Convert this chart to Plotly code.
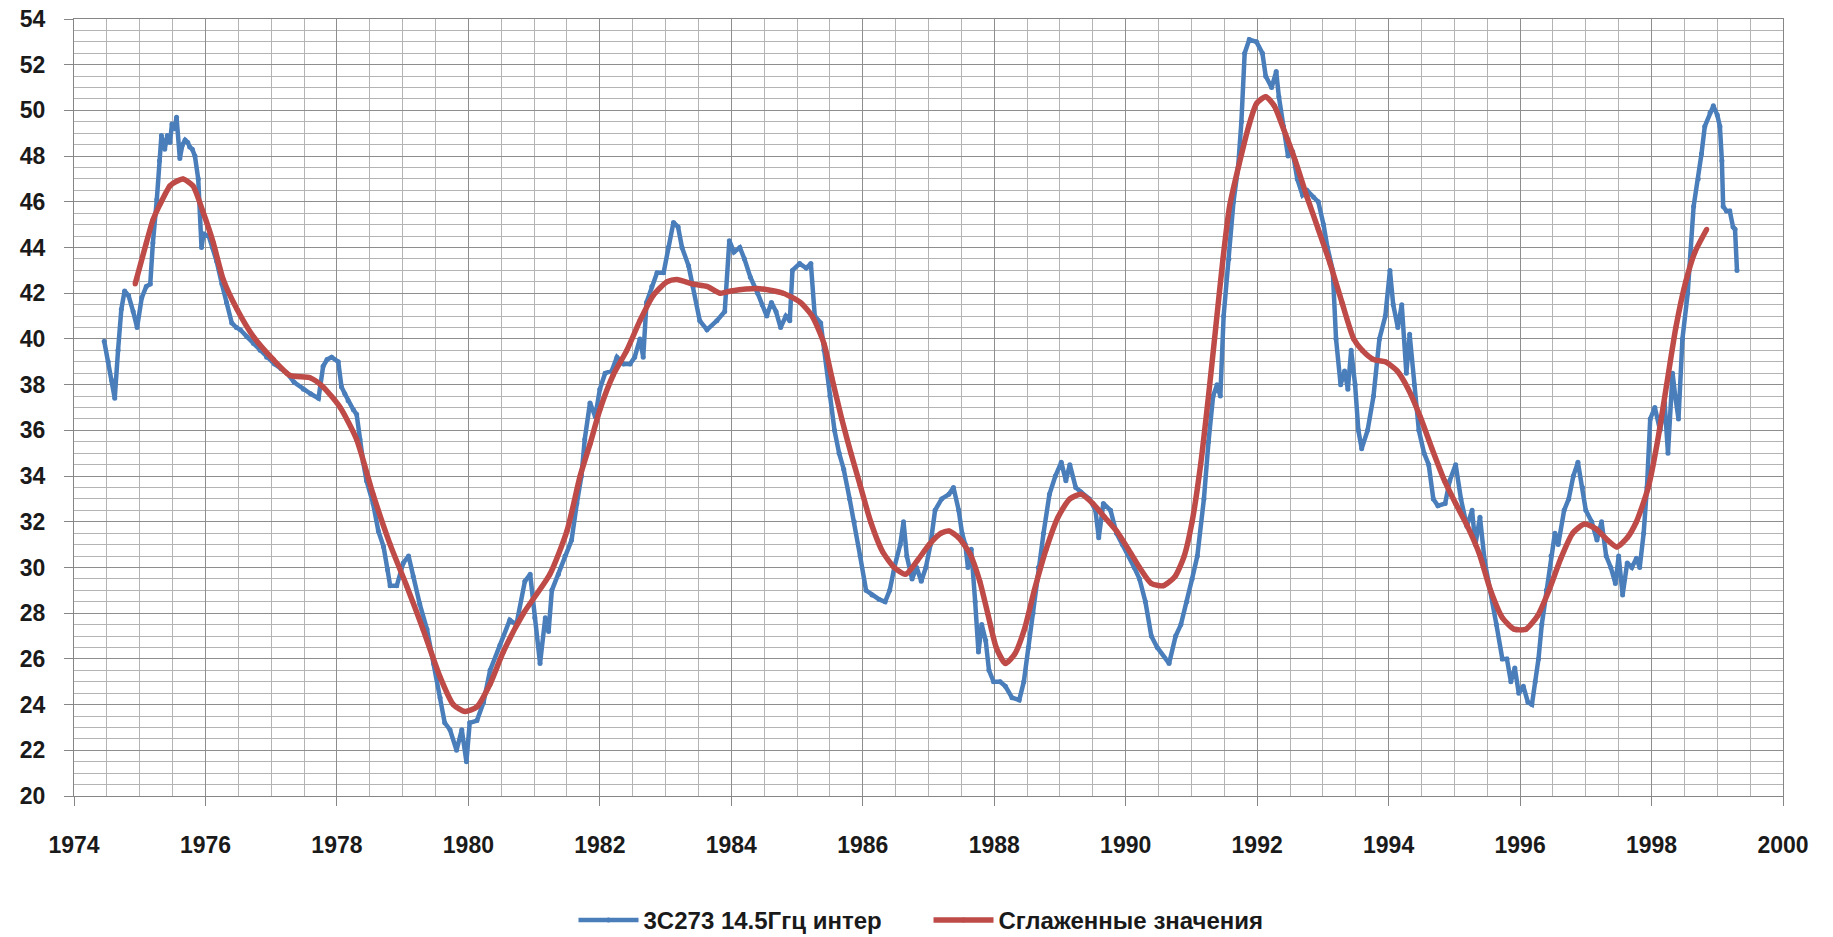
import plotly.graph_objects as go

# 3C273 flux density at 14.5 GHz (interferometer) and its smoothed curve
years_obs = [
    1974.46, 1974.52, 1974.57, 1974.62, 1974.67, 1974.72, 1974.77, 1974.83, 1974.90, 1974.96,
    1975.03, 1975.10, 1975.16, 1975.20, 1975.26, 1975.30, 1975.33, 1975.38, 1975.42, 1975.46,
    1975.49, 1975.53, 1975.56, 1975.61, 1975.65, 1975.69, 1975.73, 1975.76, 1975.80, 1975.84,
    1975.89, 1975.94, 1975.97, 1976.05, 1976.11, 1976.17, 1976.25, 1976.32, 1976.40, 1976.47,
    1976.53, 1976.63, 1976.73, 1976.83, 1976.93, 1977.05, 1977.15, 1977.24, 1977.35, 1977.49,
    1977.60, 1977.72, 1977.79, 1977.85, 1977.92, 1978.02, 1978.07, 1978.12, 1978.17, 1978.25,
    1978.30, 1978.35, 1978.40, 1978.45, 1978.55, 1978.63, 1978.71, 1978.77, 1978.81, 1978.91,
    1979.01, 1979.09, 1979.16, 1979.26, 1979.37, 1979.47, 1979.57, 1979.64, 1979.72, 1979.82,
    1979.90, 1979.97, 1980.02, 1980.13, 1980.23, 1980.33, 1980.48, 1980.63, 1980.73, 1980.86,
    1980.94, 1981.01, 1981.09, 1981.17, 1981.22, 1981.27, 1981.37, 1981.47, 1981.57, 1981.65,
    1981.72, 1981.77, 1981.85, 1981.93, 1982.00, 1982.08, 1982.18, 1982.26, 1982.36, 1982.46,
    1982.53, 1982.61, 1982.66, 1982.71, 1982.79, 1982.87, 1982.97, 1983.04, 1983.12, 1983.19,
    1983.25, 1983.35, 1983.42, 1983.52, 1983.63, 1983.78, 1983.90, 1983.97, 1984.04, 1984.13,
    1984.20, 1984.29, 1984.40, 1984.47, 1984.54, 1984.61, 1984.68, 1984.75, 1984.83, 1984.89,
    1984.93, 1985.04, 1985.14, 1985.21, 1985.27, 1985.36, 1985.41, 1985.50, 1985.57, 1985.64,
    1985.71, 1985.80, 1985.87, 1985.96, 1986.05, 1986.14, 1986.25, 1986.34, 1986.41, 1986.48,
    1986.57, 1986.62, 1986.67, 1986.75, 1986.82, 1986.89, 1986.96, 1987.03, 1987.10, 1987.20,
    1987.31, 1987.38, 1987.46, 1987.51, 1987.56, 1987.60, 1987.65, 1987.71, 1987.76, 1987.81,
    1987.87, 1987.92, 1987.99, 1988.09, 1988.17, 1988.27, 1988.38, 1988.45, 1988.52, 1988.59,
    1988.67, 1988.75, 1988.84, 1988.93, 1989.02, 1989.09, 1989.15, 1989.24, 1989.32, 1989.45,
    1989.54, 1989.59, 1989.66, 1989.77, 1989.86, 1989.95, 1990.05, 1990.13, 1990.21, 1990.30,
    1990.39, 1990.48, 1990.66, 1990.76, 1990.84, 1990.93, 1991.01, 1991.09, 1991.19, 1991.26,
    1991.33, 1991.39, 1991.44, 1991.49, 1991.57, 1991.64, 1991.71, 1991.76, 1991.81, 1991.88,
    1991.99, 1992.08, 1992.13, 1992.22, 1992.29, 1992.33, 1992.40, 1992.47, 1992.54, 1992.61,
    1992.69, 1992.76, 1992.86, 1992.93, 1993.01, 1993.07, 1993.15, 1993.20, 1993.27, 1993.33,
    1993.38, 1993.43, 1993.49, 1993.54, 1993.59, 1993.68, 1993.77, 1993.86, 1993.95, 1994.02,
    1994.07, 1994.14, 1994.20, 1994.27, 1994.32, 1994.39, 1994.46, 1994.54, 1994.61, 1994.68,
    1994.75, 1994.86, 1994.93, 1995.02, 1995.10, 1995.19, 1995.27, 1995.32, 1995.39, 1995.46,
    1995.55, 1995.64, 1995.73, 1995.80, 1995.86, 1995.92, 1995.98, 1996.05, 1996.12, 1996.18,
    1996.23, 1996.28, 1996.33, 1996.40, 1996.47, 1996.53, 1996.58, 1996.67, 1996.74, 1996.81,
    1996.88, 1996.95, 1997.00, 1997.09, 1997.17, 1997.24, 1997.31, 1997.38, 1997.45, 1997.50,
    1997.56, 1997.63, 1997.70, 1997.77, 1997.82, 1997.88, 1997.93, 1997.98, 1998.05, 1998.13,
    1998.20, 1998.25, 1998.32, 1998.36, 1998.41, 1998.47, 1998.55, 1998.64, 1998.71, 1998.76,
    1998.81, 1998.89, 1998.94, 1999.00, 1999.04, 1999.07, 1999.09, 1999.14, 1999.19, 1999.24,
    1999.27, 1999.30,
]
flux_obs = [
    39.9, 39.0, 38.2, 37.4, 39.5, 41.3, 42.1, 41.9, 41.2, 40.5,
    41.8, 42.3, 42.4, 44.2, 46.1, 47.8, 48.9, 48.3, 48.9, 48.6,
    49.4, 49.2, 49.7, 47.9, 48.5, 48.7, 48.6, 48.4, 48.3, 48.0,
    47.0, 44.0, 44.6, 44.5, 44.0, 43.4, 42.4, 41.6, 40.7, 40.5,
    40.4, 40.1, 39.8, 39.5, 39.2, 38.9, 38.7, 38.5, 38.1, 37.8,
    37.6, 37.4, 38.8, 39.1, 39.2, 39.0, 37.9, 37.6, 37.3, 36.9,
    36.7, 35.6, 34.6, 33.8, 32.8, 31.6, 30.9, 29.9, 29.2, 29.2,
    30.2, 30.5, 29.6, 28.4, 27.3, 25.8, 24.3, 23.2, 22.9, 22.0,
    22.9, 21.5, 23.2, 23.3, 24.1, 25.5, 26.6, 27.7, 27.5, 29.4,
    29.7, 27.8, 25.8, 27.8, 27.2, 29.0, 29.7, 30.5, 31.2, 32.8,
    34.0, 35.6, 37.2, 36.6, 37.8, 38.5, 38.6, 39.2, 38.9, 38.9,
    39.2, 40.0, 39.2, 41.6, 42.3, 42.9, 42.9, 44.0, 45.1, 44.9,
    44.0, 43.2, 42.3, 40.8, 40.4, 40.8, 41.2, 44.3, 43.8, 44.0,
    43.5, 42.7, 42.0, 41.5, 41.0, 41.6, 41.2, 40.5, 41.0, 40.8,
    43.0, 43.3, 43.1, 43.3, 41.0, 40.7, 39.5, 37.5, 36.0, 35.0,
    34.3, 33.0, 32.0, 30.5, 29.0, 28.8, 28.6, 28.5, 29.0, 30.0,
    31.0, 32.0, 30.5, 29.5, 30.0, 29.4, 30.0, 31.0, 32.5, 33.0,
    33.2, 33.5, 32.5, 31.5, 31.0, 30.0, 30.8, 28.5, 26.3, 27.5,
    26.8, 25.5, 25.0, 25.0, 24.8, 24.3, 24.2, 25.0, 26.5, 28.0,
    30.0, 31.5, 33.2, 34.0, 34.6, 33.8, 34.5, 33.5, 33.3, 33.0,
    32.5, 31.3, 32.8, 32.5, 31.5, 31.0, 30.5, 30.0, 29.5, 28.5,
    27.0, 26.5, 25.8, 27.0, 27.5, 28.5, 29.5, 30.5, 33.0, 35.5,
    37.5, 38.0, 37.5, 41.0, 43.5, 46.0, 47.5, 49.5, 52.5, 53.1,
    53.0, 52.5, 51.5, 51.0, 51.7, 50.6, 49.3, 48.0, 48.2, 47.0,
    46.3, 46.5, 46.2, 46.0, 45.0, 44.0, 43.0, 40.0, 38.0, 38.6,
    37.8, 39.5, 38.0, 36.0, 35.2, 36.0, 37.5, 40.0, 41.0, 43.0,
    41.5, 40.5, 41.5, 38.5, 40.2, 38.0, 36.0, 35.0, 34.5, 33.0,
    32.7, 32.8, 33.8, 34.5, 33.0, 31.8, 32.5, 31.0, 32.2, 30.3,
    29.0, 27.5, 26.0, 26.0, 25.0, 25.6, 24.5, 24.8, 24.1, 24.0,
    25.0, 26.0, 27.5, 29.0, 30.5, 31.5, 31.0, 32.5, 33.0, 34.0,
    34.6, 33.5, 32.5, 32.0, 31.2, 32.0, 30.5, 30.0, 29.3, 30.5,
    28.8, 30.2, 30.0, 30.4, 30.0, 31.5, 33.5, 36.5, 37.0, 36.0,
    37.2, 35.0, 38.5, 37.5, 36.5, 40.0, 42.0, 45.8, 47.0, 48.1,
    49.3, 49.9, 50.2, 49.8, 49.3, 47.8, 45.8, 45.6, 45.6, 44.9,
    44.8, 43.0,
]

years_smooth = [
    1974.93, 1975.10, 1975.20, 1975.31, 1975.46, 1975.56, 1975.66, 1975.81, 1975.97, 1976.12,
    1976.27, 1976.48, 1976.73, 1977.03, 1977.29, 1977.59, 1977.79, 1978.05, 1978.30, 1978.55,
    1978.81, 1979.06, 1979.31, 1979.57, 1979.77, 1979.95, 1980.13, 1980.33, 1980.53, 1980.84,
    1981.24, 1981.50, 1981.70, 1981.85, 1982.00, 1982.20, 1982.41, 1982.61, 1982.81, 1983.02,
    1983.17, 1983.42, 1983.63, 1983.83, 1984.00, 1984.43, 1984.79, 1985.05, 1985.23, 1985.41,
    1985.53, 1985.68, 1985.82, 1985.96, 1986.12, 1986.30, 1986.48, 1986.65, 1986.83, 1987.01,
    1987.19, 1987.31, 1987.46, 1987.63, 1987.78, 1987.90, 1988.03, 1988.17, 1988.31, 1988.46,
    1988.61, 1988.79, 1988.97, 1989.15, 1989.32, 1989.50, 1989.68, 1989.86, 1990.04, 1990.21,
    1990.39, 1990.57, 1990.75, 1990.89, 1991.01, 1991.14, 1991.26, 1991.37, 1991.48, 1991.58,
    1991.73, 1991.87, 1991.99, 1992.13, 1992.26, 1992.40, 1992.58, 1992.76, 1992.93, 1993.11,
    1993.29, 1993.47, 1993.60, 1993.77, 1993.95, 1994.13, 1994.30, 1994.48, 1994.66, 1994.85,
    1995.02, 1995.20, 1995.38, 1995.55, 1995.73, 1995.91, 1996.09, 1996.27, 1996.44, 1996.62,
    1996.80, 1996.98, 1997.15, 1997.33, 1997.47, 1997.63, 1997.77, 1997.95, 1998.09, 1998.23,
    1998.37, 1998.52, 1998.66, 1998.84,
]
flux_smooth = [
    42.4, 44.2, 45.2, 45.9, 46.7, 46.9, 47.0, 46.7, 45.5, 44.2,
    42.6, 41.3, 40.1, 39.1, 38.4, 38.3, 37.9, 37.0, 35.6, 33.2,
    31.0, 29.2, 27.3, 25.2, 24.0, 23.7, 23.9, 24.9, 26.3, 28.0,
    29.7, 31.6, 34.0, 35.4, 36.9, 38.4, 39.5, 40.8, 41.9, 42.5,
    42.6, 42.4, 42.3, 42.0, 42.1, 42.2, 42.0, 41.6, 41.0, 39.8,
    38.3, 36.5, 35.0, 33.6, 32.0, 30.7, 30.0, 29.7, 30.3, 31.0,
    31.5, 31.6, 31.3, 30.6, 29.4, 28.0, 26.5, 25.8, 26.2, 27.3,
    29.0, 30.8, 32.2, 33.0, 33.2, 32.8, 32.2, 31.6, 30.8, 30.0,
    29.3, 29.2, 29.6, 30.5, 32.0, 34.5, 37.5, 40.5, 43.5, 45.8,
    47.7, 49.3, 50.3, 50.6, 50.2, 49.2, 47.8, 46.2, 44.8, 43.3,
    41.6, 40.0, 39.5, 39.1, 39.0, 38.6, 37.8, 36.6, 35.2, 33.8,
    32.8, 31.8, 30.6, 29.0, 27.8, 27.3, 27.3, 27.9, 29.0, 30.4,
    31.5, 31.9, 31.7, 31.2, 30.9, 31.3, 32.0, 33.5, 35.5, 38.0,
    40.5, 42.5, 43.8, 44.8,
]

x_ticks = [1974, 1976, 1978, 1980, 1982, 1984, 1986, 1988, 1990, 1992, 1994, 1996, 1998, 2000]
y_ticks = list(range(20, 56, 2))

BLUE = "#4a7ebb"
RED = "#be4b48"
GRID_MAJOR = "#8e8e8e"
GRID_MINOR = "#b4b4b4"
FONT = "Liberation Sans Narrow, Liberation Sans, Arial, sans-serif"

fig = go.Figure()
fig.add_trace(go.Scatter(
    x=years_obs, y=flux_obs, name="3C273 14.5Ггц интер",
    mode="lines+markers",
    line=dict(color=BLUE, width=4.5),
    marker=dict(color=BLUE, size=5),
))
fig.add_trace(go.Scatter(
    x=years_smooth, y=flux_smooth, name="Сглаженные значения",
    mode="lines+markers",
    line=dict(color=RED, width=5.5, shape="spline", smoothing=0.6),
    marker=dict(color=RED, size=5),
))

axis_common = dict(
    showgrid=True, gridcolor=GRID_MAJOR, gridwidth=1,
    zeroline=False, automargin=False,
    showline=True, linecolor="#868686", linewidth=1, mirror=True,
    ticks="outside", ticklen=9, tickcolor="#868686", tickwidth=1,
    tickfont=dict(family=FONT, size=23, color="#1a1a1a", weight="bold"),
)

fig.update_xaxes(
    range=[1974, 2000], tickmode="array", tickvals=x_ticks,
    ticktext=[str(v) for v in x_ticks], ticklabelstandoff=19,
    minor=dict(dtick=0.5, tick0=1974, showgrid=True, gridcolor=GRID_MINOR, gridwidth=1),
    **axis_common,
)
fig.update_yaxes(
    range=[20, 54], tickmode="array", tickvals=y_ticks,
    ticktext=[str(v) for v in y_ticks], ticklabelstandoff=14,
    minor=dict(dtick=0.5, tick0=20, showgrid=True, gridcolor=GRID_MINOR, gridwidth=1),
    **axis_common,
)

fig.update_layout(
    width=1833, height=937,
    margin=dict(l=74, r=50, t=19, b=141, autoexpand=False),
    paper_bgcolor="white", plot_bgcolor="white",
    showlegend=True,
    legend=dict(
        orientation="h", x=0.5, xanchor="center", y=-0.16, yanchor="middle",
        font=dict(family=FONT, size=24, color="#1a1a1a", weight="bold"),
        itemwidth=60, entrywidth=280, entrywidthmode="pixels",
        bgcolor="rgba(0,0,0,0)",
    ),
)

fig.write_html("out.html")
